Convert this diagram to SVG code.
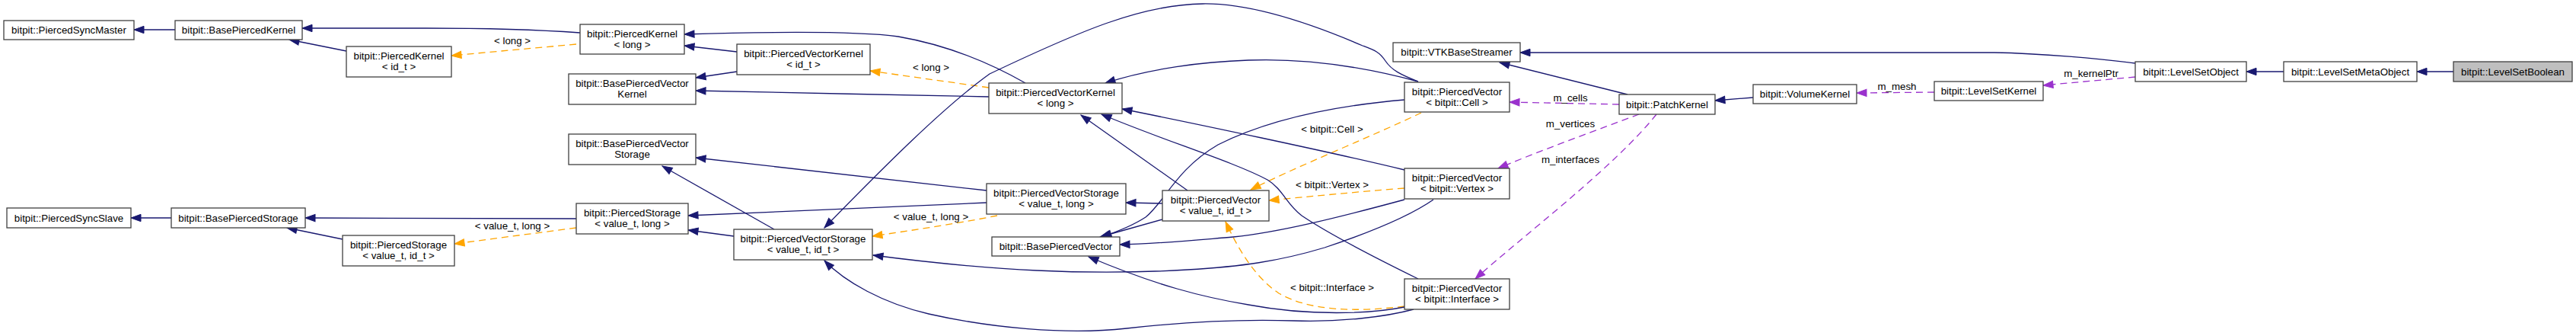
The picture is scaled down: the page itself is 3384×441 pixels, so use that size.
<svg xmlns="http://www.w3.org/2000/svg" width="3384" height="441" viewBox="0 0 3384 441">
<style>
.nb{fill:#ffffff;stroke:#404040;stroke-width:1.3}
.nr{fill:#bfbfbf;stroke:#404040;stroke-width:1.3}
text{font-family:"Liberation Sans",Arial,sans-serif;font-size:13.3px;fill:#000;text-anchor:middle}
.e{fill:none;stroke:#191970;stroke-width:1.3;marker-end:url(#an)}
.o{fill:none;stroke:#ffa500;stroke-width:1.3;stroke-dasharray:9,6;marker-end:url(#ao)}
.p{fill:none;stroke:#9a32cd;stroke-width:1.3;stroke-dasharray:9,6;marker-end:url(#ap)}
</style>
<defs>
<marker id="an" markerUnits="userSpaceOnUse" markerWidth="15" markerHeight="11" refX="13" refY="5" orient="auto" overflow="visible"><path d="M0,0.3 L13,5 L0,9.7 z" fill="#191970" stroke="#191970" stroke-width="1"/></marker>
<marker id="ao" markerUnits="userSpaceOnUse" markerWidth="15" markerHeight="11" refX="13" refY="5" orient="auto" overflow="visible"><path d="M0,0.3 L13,5 L0,9.7 z" fill="#ffa500" stroke="#ffa500" stroke-width="1"/></marker>
<marker id="ap" markerUnits="userSpaceOnUse" markerWidth="15" markerHeight="11" refX="13" refY="5" orient="auto" overflow="visible"><path d="M0,0.3 L13,5 L0,9.7 z" fill="#9a32cd" stroke="#9a32cd" stroke-width="1"/></marker>
</defs>
<rect width="3384" height="441" fill="#ffffff"/>
<g id="edges">
<path class="e" d="M230,39 L176,39"/>
<path class="e" d="M455,67 L380,52"/>
<path class="e" d="M762,43 C720,40 650,37 560,37 L397,37"/>
<path class="o" d="M757,58 L593,73"/>
<path class="e" d="M225,286 L172,286"/>
<path class="e" d="M450,314 L377,299"/>
<path class="e" d="M757,287 L401,286"/>
<path class="o" d="M757,299 L597,320"/>
<path class="e" d="M968,68 L899,60"/>
<path class="e" d="M968,94 L914,102"/>
<path class="e" d="M1299,127 C1200,125 1000,121 914,119"/>
<path class="e" d="M1347,109 C1310,88 1250,60 1180,48 C1120,40 1000,42 899,45"/>
<path class="o" d="M1299,115 L1143,93"/>
<path class="e" d="M1017,301 L870,218"/>
<path class="e" d="M964,310 L904,302"/>
<path class="e" d="M1296,250 L914,207"/>
<path class="e" d="M1296,266 L904,283"/>
<path class="o" d="M1310,283 C1260,293 1200,302 1146,310"/>
<path class="e" d="M1560,250 L1420,151"/>
<path class="e" d="M1527,267 L1479,266"/>
<path class="e" d="M1527,288 L1445,311"/>
<path class="o" d="M1867,148 C1800,180 1700,220 1643,249"/>
<path class="o" d="M1845,247 C1780,252 1720,258 1667,263"/>
<path class="o" d="M1845,402 C1780,410 1720,408 1680,385 C1650,365 1628,330 1610,291"/>
<path class="e" d="M1863,107 C1840,98 1828,92 1820,80 C1812,68 1806,66 1790,60 C1720,30 1640,4 1580,5 C1500,6 1420,40 1300,97 C1240,140 1160,220 1083,299"/>
<path class="e" d="M1863,107 C1800,90 1720,76 1640,79 C1580,81 1510,90 1452,109"/>
<path class="e" d="M1845,131 C1740,140 1660,160 1600,190 C1545,222 1530,265 1505,285 C1485,298 1465,305 1447,311"/>
<path class="e" d="M1845,223 C1750,200 1560,160 1474,143"/>
<path class="e" d="M1845,262 C1760,285 1680,305 1620,311 C1560,316 1520,320 1471,321"/>
<path class="e" d="M1883,262 C1850,285 1800,305 1740,325 C1680,343 1630,350 1560,354 C1430,362 1300,355 1147,335"/>
<path class="e" d="M1863,366 C1810,340 1750,310 1710,283 C1690,268 1685,248 1665,236 C1620,212 1530,185 1447,150"/>
<path class="e" d="M1845,403 C1800,412 1720,415 1640,400 C1580,390 1520,375 1430,337"/>
<path class="e" d="M1857,406 C1820,416 1760,423 1700,421 C1640,419 1560,422 1480,431 C1400,440 1300,430 1220,412 C1160,398 1110,370 1083,342"/>
<path class="e" d="M2805,83 C2760,77 2680,70 2620,69 L1997,69"/>
<path class="e" d="M2138,124 L1970,82"/>
<path class="e" d="M2303,128 L2253,132"/>
<path class="p" d="M2127,137 L1983,134"/>
<path class="p" d="M2153,150 C2100,170 2030,195 1968,221"/>
<path class="p" d="M2176,150 C2120,220 2000,310 1938,366"/>
<path class="p" d="M2541,121 L2439,122"/>
<path class="p" d="M2805,101 L2684,112"/>
<path class="e" d="M3000,94 L2951,94"/>
<path class="e" d="M3223,94 L3175,94"/>
<text x="673" y="58">&lt; long &gt;</text>
<text x="673" y="301">&lt; value_t, long &gt;</text>
<text x="1223" y="93">&lt; long &gt;</text>
<text x="1223" y="289">&lt; value_t, long &gt;</text>
<text x="1750" y="174">&lt; bitpit::Cell &gt;</text>
<text x="1750" y="247">&lt; bitpit::Vertex &gt;</text>
<text x="1750" y="382">&lt; bitpit::Interface &gt;</text>
<text x="2063" y="133">m_cells</text>
<text x="2063" y="167">m_vertices</text>
<text x="2063" y="214">m_interfaces</text>
<text x="2492" y="118">m_mesh</text>
<text x="2747" y="101">m_kernelPtr</text>
</g>
<g id="n1"><rect class="nb" x="5" y="27" width="171" height="25"/><text x="90.5" y="44">bitpit::PiercedSyncMaster</text></g>
<g id="n2"><rect class="nb" x="230" y="27" width="167" height="25"/><text x="313.5" y="44">bitpit::BasePiercedKernel</text></g>
<g id="n3"><rect class="nb" x="455" y="61" width="138" height="40"/><text x="524" y="77.5">bitpit::PiercedKernel</text><text x="524" y="92">&lt; id_t &gt;</text></g>
<g id="n4"><rect class="nb" x="9" y="273" width="163" height="26"/><text x="90.5" y="290.5">bitpit::PiercedSyncSlave</text></g>
<g id="n5"><rect class="nb" x="225" y="273" width="176" height="26"/><text x="313" y="290.5">bitpit::BasePiercedStorage</text></g>
<g id="n6"><rect class="nb" x="450" y="309" width="147" height="40"/><text x="523.5" y="325.5">bitpit::PiercedStorage</text><text x="523.5" y="340">&lt; value_t, id_t &gt;</text></g>
<g id="n7"><rect class="nb" x="762" y="32" width="137" height="39"/><text x="830.5" y="48.5">bitpit::PiercedKernel</text><text x="830.5" y="63">&lt; long &gt;</text></g>
<g id="n8"><rect class="nb" x="968" y="58" width="175" height="40"/><text x="1055.5" y="74.5">bitpit::PiercedVectorKernel</text><text x="1055.5" y="89">&lt; id_t &gt;</text></g>
<g id="n9"><rect class="nb" x="747" y="97" width="167" height="40"/><text x="830.5" y="113.5">bitpit::BasePiercedVector</text><text x="830.5" y="128">Kernel</text></g>
<g id="n10"><rect class="nb" x="747" y="176" width="167" height="40"/><text x="830.5" y="192.5">bitpit::BasePiercedVector</text><text x="830.5" y="207">Storage</text></g>
<g id="n11"><rect class="nb" x="757" y="267" width="147" height="40"/><text x="830.5" y="283.5">bitpit::PiercedStorage</text><text x="830.5" y="298">&lt; value_t, long &gt;</text></g>
<g id="n12"><rect class="nb" x="964" y="301" width="182" height="40"/><text x="1055" y="317.5">bitpit::PiercedVectorStorage</text><text x="1055" y="332">&lt; value_t, id_t &gt;</text></g>
<g id="n13"><rect class="nb" x="1299" y="109" width="175" height="40"/><text x="1386.5" y="125.5">bitpit::PiercedVectorKernel</text><text x="1386.5" y="140">&lt; long &gt;</text></g>
<g id="n14"><rect class="nb" x="1296" y="241" width="183" height="40"/><text x="1387.5" y="257.5">bitpit::PiercedVectorStorage</text><text x="1387.5" y="272">&lt; value_t, long &gt;</text></g>
<g id="n15"><rect class="nb" x="1527" y="250" width="140" height="40"/><text x="1597" y="266.5">bitpit::PiercedVector</text><text x="1597" y="281">&lt; value_t, id_t &gt;</text></g>
<g id="n16"><rect class="nb" x="1303" y="311" width="168" height="25"/><text x="1387" y="328">bitpit::BasePiercedVector</text></g>
<g id="n17"><rect class="nb" x="1830" y="56" width="167" height="25"/><text x="1913.5" y="73">bitpit::VTKBaseStreamer</text></g>
<g id="n18"><rect class="nb" x="1845" y="108" width="138" height="39"/><text x="1914" y="124.5">bitpit::PiercedVector</text><text x="1914" y="139">&lt; bitpit::Cell &gt;</text></g>
<g id="n19"><rect class="nb" x="1845" y="221" width="138" height="40"/><text x="1914" y="237.5">bitpit::PiercedVector</text><text x="1914" y="252">&lt; bitpit::Vertex &gt;</text></g>
<g id="n20"><rect class="nb" x="1845" y="366" width="138" height="40"/><text x="1914" y="382.5">bitpit::PiercedVector</text><text x="1914" y="397">&lt; bitpit::Interface &gt;</text></g>
<g id="n21"><rect class="nb" x="2127" y="124" width="126" height="26"/><text x="2190" y="141.5">bitpit::PatchKernel</text></g>
<g id="n22"><rect class="nb" x="2303" y="111" width="136" height="25"/><text x="2371" y="128">bitpit::VolumeKernel</text></g>
<g id="n23"><rect class="nb" x="2541" y="107" width="143" height="25"/><text x="2612.5" y="124">bitpit::LevelSetKernel</text></g>
<g id="n24"><rect class="nb" x="2805" y="81" width="146" height="26"/><text x="2878" y="98.5">bitpit::LevelSetObject</text></g>
<g id="n25"><rect class="nb" x="3000" y="81" width="175" height="26"/><text x="3087.5" y="98.5">bitpit::LevelSetMetaObject</text></g>
<g id="n26"><rect class="nr" x="3223" y="81" width="156" height="26"/><text x="3301" y="98.5">bitpit::LevelSetBoolean</text></g>
</svg>
